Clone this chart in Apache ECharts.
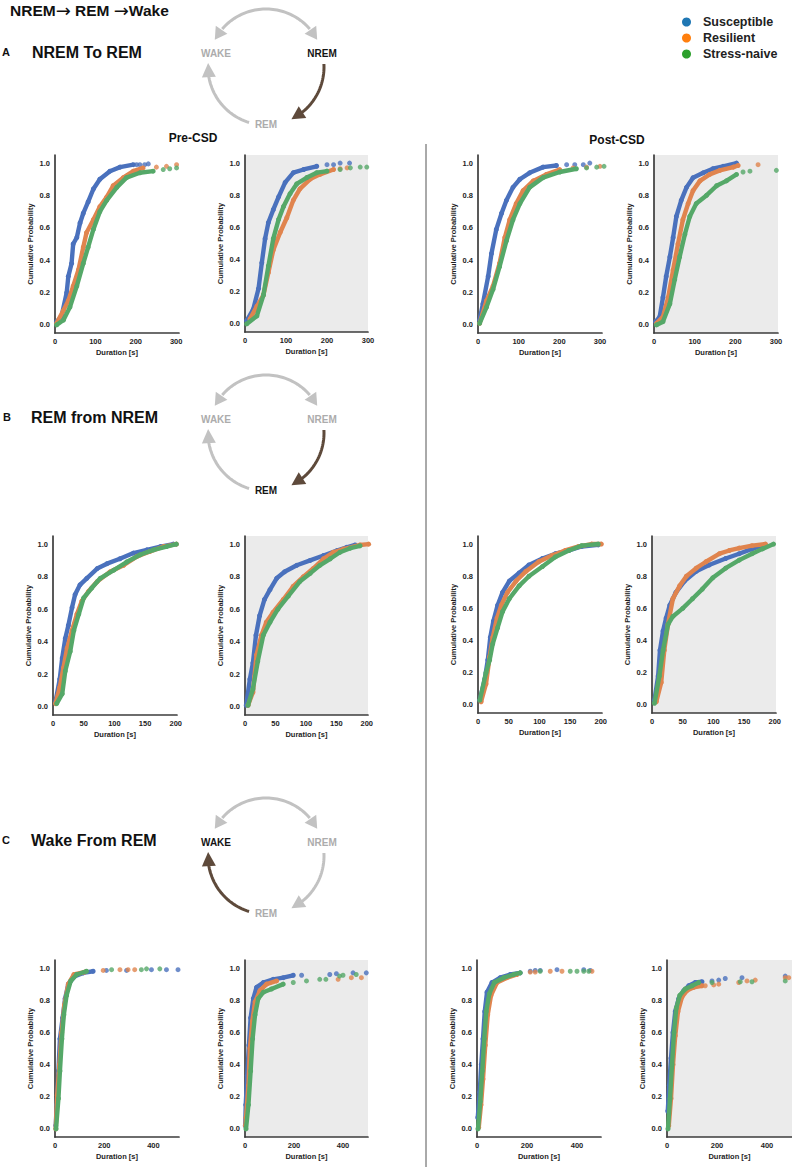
<!DOCTYPE html>
<html><head><meta charset="utf-8">
<script src="https://cdn.jsdelivr.net/npm/echarts@6/dist/echarts.min.js"></script>
<style>html,body{margin:0;padding:0;background:#fff;}#chart{width:792px;height:1167px;}</style>
</head><body><div id="chart"></div>
<script>
// ---------- labels / ticks ----------
const groupNames = ['Susceptible', 'Resilient', 'Stress-naive'];
const yTicks = [0, 0.2, 0.4, 0.6, 0.8, 1.0];
const xTicksA = [0, 100, 200, 300];
const xTicksB = [0, 50, 100, 150, 200];
const xTicksC = [0, 200, 400];

// ---------- A: NREM to REM (duration [s], cumulative probability) ----------
const A_preLight_sus = [[4,0.02],[16,0.05],[29,0.2],[33,0.3],[41,0.38],[45,0.5],[54,0.54],[62,0.63],[70,0.69],[82,0.76],[95,0.84],[111,0.9],[136,0.95],[161,0.975],[194,0.99]];
const A_preLight_sus_tail = [[202,0.99],[210,0.99],[222,0.99],[231,0.995]];
const A_preLight_ora = [[4,0.01],[21,0.09],[33,0.15],[45,0.24],[58,0.34],[70,0.48],[78,0.57],[95,0.65],[111,0.73],[128,0.79],[144,0.86],[169,0.91],[194,0.95],[218,0.97]];
const A_preLight_ora_tail = [[251,0.975],[276,0.98],[301,0.99]];
const A_preLight_sta = [[4,0],[21,0.03],[37,0.11],[54,0.24],[70,0.38],[82,0.48],[95,0.59],[111,0.7],[128,0.77],[153,0.85],[177,0.91],[210,0.94],[243,0.95]];
const A_preLight_sta_tail = [[268,0.96],[284,0.965],[301,0.97]];

const A_preDark_sus = [[4,0.02],[20,0.09],[33,0.22],[41,0.38],[49,0.53],[57,0.63],[69,0.71],[82,0.79],[98,0.88],[118,0.94],[143,0.96],[175,0.98]];
const A_preDark_sus_tail = [[200,0.99],[216,0.99],[232,1.0],[255,1.0]];
const A_preDark_ora = [[12,0.03],[29,0.11],[45,0.18],[57,0.32],[69,0.46],[86,0.57],[102,0.66],[118,0.77],[134,0.84],[159,0.9],[183,0.93],[216,0.96]];
const A_preDark_ora_tail = [[232,0.965],[249,0.97]];
const A_preDark_sta = [[4,0],[29,0.05],[45,0.18],[57,0.36],[69,0.53],[82,0.65],[94,0.73],[110,0.81],[126,0.87],[151,0.91],[175,0.94],[200,0.95]];
const A_preDark_sta_tail = [[232,0.96],[257,0.97],[281,0.975],[297,0.975]];

const A_postLight_sus = [[4,0.03],[12,0.13],[25,0.3],[33,0.44],[45,0.59],[58,0.69],[70,0.77],[86,0.85],[103,0.9],[127,0.94],[160,0.975],[193,0.985]];
const A_postLight_sus_tail = [[218,0.99],[238,0.99],[259,0.99],[275,1.0]];
const A_postLight_ora = [[4,0.01],[21,0.15],[37,0.24],[53,0.38],[66,0.54],[78,0.65],[94,0.75],[111,0.83],[136,0.89],[168,0.93],[201,0.96]];
const A_postLight_ora_tail = [[234,0.97],[267,0.975],[300,0.98]];
const A_postLight_sta = [[4,0.01],[21,0.11],[37,0.22],[53,0.36],[70,0.52],[86,0.65],[103,0.75],[127,0.85],[160,0.91],[201,0.945],[242,0.965]];
const A_postLight_sta_tail = [[267,0.97],[292,0.975],[310,0.98]];

const A_postDark_sus = [[4,0.02],[14,0.05],[22,0.17],[30,0.3],[39,0.42],[47,0.54],[55,0.67],[67,0.77],[80,0.85],[96,0.91],[121,0.94],[145,0.965],[170,0.98],[203,1.0]];
const A_postDark_sus_tail = [];
const A_postDark_ora = [[6,0.01],[22,0.05],[35,0.17],[47,0.34],[59,0.5],[71,0.65],[84,0.75],[96,0.83],[113,0.89],[137,0.93],[162,0.955],[195,0.975],[207,0.985]];
const A_postDark_ora_tail = [[256,0.99]];
const A_postDark_sta = [[6,0],[22,0.02],[39,0.13],[51,0.28],[63,0.42],[76,0.56],[88,0.67],[104,0.75],[129,0.8],[154,0.86],[178,0.89],[203,0.93]];
const A_postDark_sta_tail = [[219,0.945],[236,0.95],[301,0.955]];

// ---------- B: REM from NREM ----------
const B_preLight_sus = [[4,0.03],[11,0.17],[15,0.3],[20,0.42],[25,0.5],[31,0.61],[36,0.69],[44,0.75],[55,0.79],[72,0.85],[88,0.88],[109,0.91],[131,0.945],[153,0.965],[175,0.985],[196,1.0]];
const B_preLight_ora = [[4,0.02],[11,0.12],[17,0.24],[23,0.36],[31,0.47],[39,0.57],[47,0.65],[58,0.71],[72,0.77],[93,0.83],[115,0.87],[137,0.925],[158,0.955],[180,0.985],[201,1.0]];
const B_preLight_sta = [[6,0.02],[15,0.08],[20,0.22],[28,0.34],[34,0.47],[42,0.57],[50,0.67],[63,0.73],[77,0.79],[99,0.84],[120,0.89],[142,0.935],[164,0.965],[185,0.985],[201,1.0]];

const B_preDark_sus = [[2,0.01],[8,0.17],[13,0.27],[18,0.44],[24,0.56],[32,0.66],[41,0.72],[52,0.79],[65,0.83],[85,0.87],[107,0.9],[129,0.93],[151,0.96],[167,0.98],[181,0.995]];
const B_preDark_ora = [[5,0.01],[13,0.09],[19,0.32],[27,0.44],[35,0.52],[46,0.58],[63,0.66],[79,0.74],[96,0.8],[112,0.85],[129,0.91],[145,0.95],[162,0.97],[189,0.995],[203,1.0]];
const B_preDark_sta = [[5,0.01],[13,0.11],[21,0.28],[30,0.44],[41,0.52],[54,0.6],[71,0.68],[90,0.77],[107,0.82],[123,0.87],[140,0.91],[156,0.95],[173,0.975],[189,0.99]];

const B_postLight_sus = [[3,0.03],[11,0.16],[16,0.28],[20,0.42],[25,0.52],[32,0.62],[40,0.7],[51,0.77],[67,0.82],[83,0.87],[105,0.91],[126,0.94],[148,0.96],[169,0.985],[196,0.995]];
const B_postLight_ora = [[5,0.02],[13,0.13],[19,0.3],[24,0.42],[31,0.54],[38,0.62],[48,0.7],[62,0.77],[78,0.83],[99,0.89],[121,0.93],[142,0.96],[164,0.985],[185,1.0],[201,1.0]];
const B_postLight_sta = [[3,0.03],[13,0.2],[19,0.28],[24,0.38],[32,0.48],[40,0.58],[51,0.66],[67,0.74],[83,0.8],[105,0.86],[126,0.92],[148,0.96],[169,0.99],[196,1.0]];

const B_postDark_sus = [[4,0.03],[10,0.18],[13,0.34],[18,0.46],[23,0.54],[29,0.62],[39,0.7],[53,0.77],[72,0.83],[93,0.87],[120,0.91],[142,0.94],[163,0.97],[180,0.99]];
const B_postDark_ora = [[7,0.02],[15,0.14],[20,0.34],[26,0.5],[34,0.66],[45,0.74],[56,0.8],[72,0.85],[88,0.89],[110,0.94],[126,0.96],[142,0.975],[163,0.99],[185,1.0]];
const B_postDark_sta = [[4,0.01],[12,0.18],[18,0.34],[26,0.5],[34,0.55],[50,0.6],[66,0.66],[82,0.72],[99,0.79],[120,0.85],[142,0.9],[163,0.94],[180,0.97],[198,1.0]];

// ---------- C: Wake from REM ----------
const C_preLight_sus = [[3,0.02],[7,0.15],[14,0.36],[20,0.56],[31,0.69],[41,0.81],[54,0.9],[81,0.95],[115,0.97],[155,0.98]];
const C_preLight_sus_tail = [[209,0.985],[291,0.985],[392,0.99],[453,0.99],[500,0.99]];
const C_preLight_ora = [[3,0],[9,0.21],[18,0.4],[27,0.6],[38,0.77],[54,0.9],[77,0.96],[120,0.975]];
const C_preLight_ora_tail = [[196,0.985],[264,0.99],[297,0.99],[324,0.99]];
const C_preLight_sta = [[4,0],[14,0.19],[20,0.36],[28,0.56],[36,0.71],[47,0.83],[64,0.92],[88,0.96],[128,0.98]];
const C_preLight_sta_tail = [[230,0.99],[351,0.99],[372,0.995],[426,0.995]];

const C_preDark_sus = [[1,0.02],[3,0.15],[9,0.33],[16,0.52],[23,0.69],[34,0.81],[47,0.88],[75,0.91],[115,0.93],[156,0.94],[197,0.955]];
const C_preDark_sus_tail = [[231,0.955],[346,0.96],[373,0.965],[441,0.97],[495,0.97]];
const C_preDark_ora = [[2,0.02],[4,0.07],[14,0.27],[20,0.5],[30,0.67],[41,0.79],[61,0.86],[88,0.9],[129,0.92]];
const C_preDark_ora_tail = [[380,0.93],[434,0.94],[475,0.94]];
const C_preDark_sta = [[4,0],[14,0.15],[23,0.36],[31,0.56],[41,0.71],[54,0.81],[75,0.85],[108,0.87],[156,0.9]];
const C_preDark_sta_tail = [[197,0.91],[251,0.92],[305,0.93],[330,0.93],[386,0.95],[400,0.955],[454,0.96]];

const C_postLight_sus = [[3,0.07],[11,0.23],[17,0.4],[24,0.56],[31,0.73],[40,0.85],[60,0.91],[93,0.94],[133,0.96],[173,0.97]];
const C_postLight_sus_tail = [[213,0.98],[233,0.985],[253,0.985],[320,0.99],[427,0.99],[453,0.985]];
const C_postLight_ora = [[7,0.01],[16,0.15],[24,0.31],[33,0.52],[43,0.71],[56,0.83],[80,0.91],[120,0.94],[160,0.96]];
const C_postLight_ora_tail = [[213,0.975],[233,0.975],[293,0.98],[340,0.98],[460,0.98]];
const C_postLight_sta = [[4,0],[13,0.17],[21,0.36],[29,0.56],[37,0.73],[49,0.84],[69,0.91],[107,0.94],[147,0.96],[173,0.97]];
const C_postLight_sta_tail = [[253,0.98],[373,0.98],[400,0.98],[427,0.98],[447,0.98]];

const C_postDark_sus = [[3,0.11],[9,0.27],[16,0.44],[24,0.6],[33,0.73],[47,0.81],[67,0.86],[87,0.89],[113,0.91],[140,0.915]];
const C_postDark_sus_tail = [[180,0.92],[207,0.925],[233,0.935],[300,0.94],[473,0.95]];
const C_postDark_ora = [[7,0.02],[16,0.19],[24,0.4],[33,0.58],[44,0.73],[60,0.82],[80,0.86],[107,0.88],[140,0.89]];
const C_postDark_ora_tail = [[153,0.89],[187,0.895],[207,0.9],[287,0.91],[320,0.92],[353,0.925],[473,0.94],[487,0.94]];
const C_postDark_sta = [[4,0],[12,0.19],[20,0.4],[28,0.6],[37,0.75],[51,0.83],[73,0.87],[100,0.89],[127,0.91]];
const C_postDark_sta_tail = [[180,0.91],[293,0.915],[340,0.915],[473,0.92]];

// ---------- styling / layout ----------
const FONT = '"Liberation Sans", Arial, Helvetica, sans-serif';
const plotColors = ['#4a71bd', '#e0844e', '#55a868'];
const legendColors = ['#1f77b4', '#ff7f0e', '#2ca02c'];

const panels = [
  {left:55,  top:155, width:124, height:178, max:307, ticks:xTicksA, dark:false, curves:[A_preLight_sus,A_preLight_ora,A_preLight_sta], tails:[A_preLight_sus_tail,A_preLight_ora_tail,A_preLight_sta_tail]},
  {left:245, top:155, width:123, height:177, max:300, ticks:xTicksA, dark:true,  curves:[A_preDark_sus,A_preDark_ora,A_preDark_sta], tails:[A_preDark_sus_tail,A_preDark_ora_tail,A_preDark_sta_tail]},
  {left:478, top:155, width:124, height:178, max:305, ticks:xTicksA, dark:false, curves:[A_postLight_sus,A_postLight_ora,A_postLight_sta], tails:[A_postLight_sus_tail,A_postLight_ora_tail,A_postLight_sta_tail]},
  {left:654, top:155, width:124, height:178, max:305, ticks:xTicksA, dark:true,  curves:[A_postDark_sus,A_postDark_ora,A_postDark_sta], tails:[A_postDark_sus_tail,A_postDark_ora_tail,A_postDark_sta_tail]},
  {left:53,  top:536, width:124, height:179, max:202, ticks:xTicksB, dark:false, curves:[B_preLight_sus,B_preLight_ora,B_preLight_sta], tails:[[],[],[]]},
  {left:245, top:536, width:123, height:179, max:202, ticks:xTicksB, dark:true,  curves:[B_preDark_sus,B_preDark_ora,B_preDark_sta], tails:[[],[],[]]},
  {left:478, top:536, width:124, height:177, max:202, ticks:xTicksB, dark:false, curves:[B_postLight_sus,B_postLight_ora,B_postLight_sta], tails:[[],[],[]]},
  {left:652, top:536, width:124, height:177, max:202, ticks:xTicksB, dark:true,  curves:[B_postDark_sus,B_postDark_ora,B_postDark_sta], tails:[[],[],[]]},
  {left:55,  top:960, width:124, height:177, max:504, ticks:xTicksC, dark:false, curves:[C_preLight_sus,C_preLight_ora,C_preLight_sta], tails:[C_preLight_sus_tail,C_preLight_ora_tail,C_preLight_sta_tail]},
  {left:245, top:960, width:123, height:177, max:502, ticks:xTicksC, dark:true,  curves:[C_preDark_sus,C_preDark_ora,C_preDark_sta], tails:[C_preDark_sus_tail,C_preDark_ora_tail,C_preDark_sta_tail]},
  {left:477, top:960, width:124, height:177, max:496, ticks:xTicksC, dark:false, curves:[C_postLight_sus,C_postLight_ora,C_postLight_sta], tails:[C_postLight_sus_tail,C_postLight_ora_tail,C_postLight_sta_tail]},
  {left:667, top:960, width:125, height:177, max:500, ticks:xTicksC, dark:true,  curves:[C_postDark_sus,C_postDark_ora,C_postDark_sta], tails:[C_postDark_sus_tail,C_postDark_ora_tail,C_postDark_sta_tail]}
];

const grids = [], xAxes = [], yAxes = [], series = [];
const axisText = {color:'#1e1e1e', fontWeight:'bold', fontSize:7.5, fontFamily:FONT};
const axisLineStyle = {show:true, onZero:false, lineStyle:{color:'#3c3c3c', width:1.7}};

panels.forEach((p, i) => {
  grids.push({left:p.left, top:p.top, width:p.width, height:p.height, show:p.dark, backgroundColor:'#ebebeb', borderWidth:0});
  xAxes.push({type:'value', gridIndex:i, min:0, max:p.max, name:'Duration [s]', nameLocation:'middle', nameGap:15,
    nameTextStyle:axisText, axisLine:axisLineStyle, axisTick:{show:false}, splitLine:{show:false},
    axisLabel:Object.assign({customValues:p.ticks, margin:4}, axisText)});
  yAxes.push({type:'value', gridIndex:i, min:-0.05, max:1.05, name:'Cumulative Probability', nameLocation:'middle', nameGap:21,
    nameTextStyle:axisText, axisLine:axisLineStyle, axisTick:{show:false}, splitLine:{show:false},
    axisLabel:Object.assign({customValues:yTicks, margin:5, formatter:v => v.toFixed(1)}, axisText)});
  for (let g = 0; g < 3; g++) {
    series.push({type:'line', name:groupNames[g], xAxisIndex:i, yAxisIndex:i, data:p.curves[g], clip:false,
      symbol:'circle', symbolSize:5, showSymbol:true, z:2+g,
      lineStyle:{color:plotColors[g], width:4.4}, itemStyle:{color:plotColors[g]}, emphasis:{disabled:true}});
    if (p.tails[g].length) {
      series.push({type:'scatter', name:groupNames[g], xAxisIndex:i, yAxisIndex:i, data:p.tails[g], clip:false,
        symbol:'circle', symbolSize:5, z:2+g, itemStyle:{color:plotColors[g]}, emphasis:{disabled:true}});
    }
  }
});

// ---------- decorations: sleep-cycle diagrams ----------
const GREY_ARC = '#c2c2c2', BROWN = '#5e4a3b', GREY_TXT = '#acacac', DARK_TXT = '#141414';
function pt(cx, cy, r, deg) { const a = deg * Math.PI / 180; return [cx + r * Math.cos(a), cy - r * Math.sin(a)]; }
function arcLine(cx, cy, r, d0, d1, color) {
  const n = Math.max(2, Math.ceil(Math.abs(d1 - d0) / 2)), pts = [];
  for (let k = 0; k <= n; k++) pts.push(pt(cx, cy, r, d0 + (d1 - d0) * k / n));
  return {type:'polyline', shape:{points:pts}, style:{stroke:color, lineWidth:3, fill:null}, silent:true};
}
function arrowHead(cx, cy, r, dBase, dTip, color) {
  const b = pt(cx, cy, r, dBase), t = pt(cx, cy, r, dTip);
  const dx = t[0] - b[0], dy = t[1] - b[1], L = Math.hypot(dx, dy);
  const px = -dy / L * 7, py = dx / L * 7;
  return {type:'polygon', shape:{points:[t, [b[0] + px, b[1] + py], [b[0] - px, b[1] - py]]}, style:{fill:color}, silent:true};
}
function label(x, y, text, color, size, align) {
  return {type:'text', x:0, y:0, silent:true, style:{x:x, y:y, text:text, fill:color, font:'bold ' + size + 'px ' + FONT, align:align || 'center', verticalAlign:'middle'}};
}
function cycle(cx, cy, active) {
  const r = 58, els = [];
  els.push(arcLine(cx, cy, r, 139, 41, GREY_ARC));
  els.push(arrowHead(cx, cy, r, 140, 152, GREY_ARC));
  els.push(arrowHead(cx, cy, r, 40, 28, GREY_ARC));
  const rc = (active === 'NREM' || active === 'REM') ? BROWN : GREY_ARC;
  els.push(arcLine(cx, cy, r, 3, -52, rc));
  els.push(arrowHead(cx, cy, r, -51, -64, rc));
  const lc = active === 'WAKE' ? BROWN : GREY_ARC;
  els.push(arcLine(cx, cy, r, 253, 189, lc));
  els.push(arrowHead(cx, cy, r, 190, 176, lc));
  els.push(label(cx - 50, cy - 14, 'WAKE', active === 'WAKE' ? DARK_TXT : GREY_TXT, 10));
  els.push(label(cx + 56, cy - 14, 'NREM', active === 'NREM' ? DARK_TXT : GREY_TXT, 10));
  els.push(label(cx, cy + 57, 'REM', active === 'REM' ? DARK_TXT : GREY_TXT, 10));
  return els;
}

const mainTitle = {type:'text', x:0, y:0, silent:true, style:{
  x:10, y:10, align:'left', verticalAlign:'middle', fill:'#111',
  text:'{a|NREM}{b|\u2192}{a| REM }{b|\u2192}{a|Wake}',
  rich:{
    a:{font:'bold 15.5px ' + FONT, fill:'#111', lineHeight:16},
    b:{font:'18px "DejaVu Sans", sans-serif', fill:'#111', lineHeight:16}
  }
}};

const graphics = [].concat(
  [mainTitle],
  [label(2, 52, 'A', '#111', 11, 'left'), label(32, 52, 'NREM To REM', '#111', 16, 'left')],
  [label(3, 417, 'B', '#111', 11, 'left'), label(31, 417, 'REM from NREM', '#111', 16, 'left')],
  [label(2, 840, 'C', '#111', 11, 'left'), label(31, 840, 'Wake From REM', '#111', 16, 'left')],
  cycle(266, 67, 'NREM'), cycle(266, 433, 'REM'), cycle(266, 856, 'WAKE'),
  [label(193, 138, 'Pre-CSD', '#111', 12), label(617, 140, 'Post-CSD', '#111', 12)],
  [{type:'line', silent:true, shape:{x1:426, y1:144, x2:426, y2:1167}, style:{stroke:'#555', lineWidth:1}}]
);

const chart = echarts.init(document.getElementById('chart'), null, {renderer:'svg'});
chart.setOption({
  animation:false,
  backgroundColor:'#ffffff',
  legend:{
    orient:'vertical', left:677, top:10, icon:'circle', itemWidth:9, itemHeight:9, itemGap:2,
    selectedMode:false,
    data:groupNames.map((n, g) => ({name:n, itemStyle:{color:legendColors[g]}})),
    textStyle:{fontFamily:FONT, fontWeight:'bold', fontSize:12.5, color:'#222', padding:[0,0,0,7], lineHeight:14}
  },
  grid:grids, xAxis:xAxes, yAxis:yAxes, series:series,
  graphic:graphics
});
</script></body></html>
